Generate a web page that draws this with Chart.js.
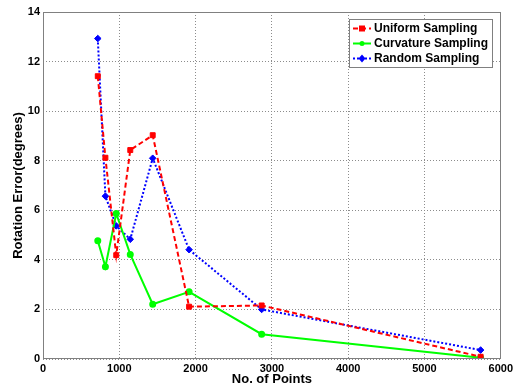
<!DOCTYPE html>
<html>
<head>
<meta charset="utf-8">
<script src="https://cdn.jsdelivr.net/npm/chart.js"></script>
<style>
html,body{margin:0;padding:0;background:#fff;}
#wrap{width:516px;height:389px;}
</style>
</head>
<body>
<div id="wrap"><canvas id="c" width="516" height="389"></canvas></div>
<script>
const xValues = [718, 818, 960, 1144, 1438, 1915, 2866, 5736];
const uniform = [11.41, 8.12, 4.19, 8.43, 9.03, 2.11, 2.16, 0.09];
const curvature = [4.77, 3.72, 5.87, 4.22, 2.21, 2.71, 1.0, 0.05];
const random = [12.93, 6.57, 5.37, 4.83, 8.10, 4.41, 2.0, 0.36];
const labels = ['Uniform Sampling', 'Curvature Sampling', 'Random Sampling'];
const xTicks = [0, 1000, 2000, 3000, 4000, 5000, 6000];
const yTicks = [0, 2, 4, 6, 8, 10, 12, 14];

const pts = arr => arr.map((v, i) => ({x: xValues[i], y: v}));
const FONT = 'Liberation Sans, Arial, sans-serif';

const frame = {
  id: 'frame',
  afterDraw(chart) {
    const {ctx, chartArea: a} = chart;
    ctx.save();
    ctx.strokeStyle = '#808080';
    ctx.lineWidth = 1;
    ctx.setLineDash([]);
    ctx.strokeRect(Math.round(a.left) + 0.5, Math.round(a.top) + 0.5, Math.round(a.right - a.left) - 1, Math.round(a.bottom - a.top) - 1);
    // legend box
    const bx = Math.round(a.right - 152), by = Math.round(a.top + 7), bw = 143, bh = 48;
    ctx.fillStyle = '#fff';
    ctx.fillRect(bx, by, bw, bh);
    ctx.strokeStyle = '#808080';
    ctx.strokeRect(bx + 0.5, by + 0.5, bw, bh);
    chart.data.datasets.forEach((ds, i) => {
      const y = by + 9.5 + i * 15;
      ctx.strokeStyle = ds.borderColor;
      ctx.lineWidth = 2;
      ctx.setLineDash(ds.borderDash || []);
      ctx.beginPath();
      ctx.moveTo(bx + 4, y);
      ctx.lineTo(bx + 22, y);
      ctx.stroke();
      ctx.setLineDash([]);
      const mx = bx + 13;
      ctx.fillStyle = ds.pointBackgroundColor;
      ctx.beginPath();
      if (ds.pointStyle === 'rect') { ctx.rect(mx - 3, y - 3, 6, 6); }
      else if (ds.pointStyle === 'rectRot') { ctx.moveTo(mx, y - 4); ctx.lineTo(mx + 3.5, y); ctx.lineTo(mx, y + 4); ctx.lineTo(mx - 3.5, y); ctx.closePath(); }
      else { ctx.arc(mx, y, 2.5, 0, Math.PI * 2); }
      ctx.fill();
      ctx.fillStyle = '#000';
      ctx.font = 'bold 12px ' + FONT;
      ctx.textBaseline = 'middle';
      ctx.textAlign = 'left';
      ctx.fillText(ds.label, bx + 25, y + 0.5);
    });
    ctx.restore();
  }
};

new Chart(document.getElementById('c'), {
  type: 'line',
  data: {
    datasets: [
      {label: labels[0], data: pts(uniform), borderColor: '#ff0000', backgroundColor: '#ff0000', pointBackgroundColor: '#ff0000', pointBorderColor: '#ff0000', borderWidth: 2, borderDash: [5, 3], pointStyle: 'rect', pointRadius: 3.5, pointBorderWidth: 1, tension: 0, fill: false},
      {label: labels[1], data: pts(curvature), borderColor: '#00ff00', backgroundColor: '#00ff00', pointBackgroundColor: '#00ff00', pointBorderColor: '#00ff00', borderWidth: 2, pointStyle: 'circle', pointRadius: 2.5, tension: 0, fill: false},
      {label: labels[2], data: pts(random), borderColor: '#0000ff', backgroundColor: '#0000ff', pointBackgroundColor: '#0000ff', pointBorderColor: '#0000ff', borderWidth: 2, borderDash: [2, 2], pointStyle: 'rectRot', pointRadius: 3.3, pointBorderWidth: 1, tension: 0, fill: false}
    ]
  },
  options: {
    responsive: false,
    animation: false,
    layout: {padding: {top: 12, right: 13, left: 0, bottom: 0}},
    plugins: {legend: {display: false}, tooltip: {enabled: false}},
    scales: {
      x: {
        type: 'linear', min: 0, max: 6000,
        afterBuildTicks: s => { s.ticks = xTicks.map(v => ({value: v})); },
        afterFit: s => { s.height = 30; },
        grid: {color: '#8c8c8c', lineWidth: 1, drawTicks: false},
        border: {display: false, dash: [1, 2]},
        ticks: {color: '#000', font: {family: FONT, size: 11, weight: 'bold'}, padding: 3, maxRotation: 0, callback: v => String(v)},
        title: {display: true, text: 'No. of Points', color: '#000', font: {family: FONT, size: 13, weight: 'bold'}, padding: {top: 0, bottom: 2}}
      },
      y: {
        min: 0, max: 14,
        afterBuildTicks: s => { s.ticks = yTicks.map(v => ({value: v})); },
        afterFit: s => { s.width = 43; },
        grid: {color: '#8c8c8c', lineWidth: 1, drawTicks: false},
        border: {display: false, dash: [1, 2]},
        ticks: {color: '#000', font: {family: FONT, size: 11, weight: 'bold'}, padding: 3, callback: v => String(v)},
        title: {display: true, text: 'Rotation Error(degrees)', color: '#000', font: {family: FONT, size: 13, weight: 'bold'}, padding: {top: 11, bottom: 0}}
      }
    }
  },
  plugins: [frame]
});
</script>
</body>
</html>
